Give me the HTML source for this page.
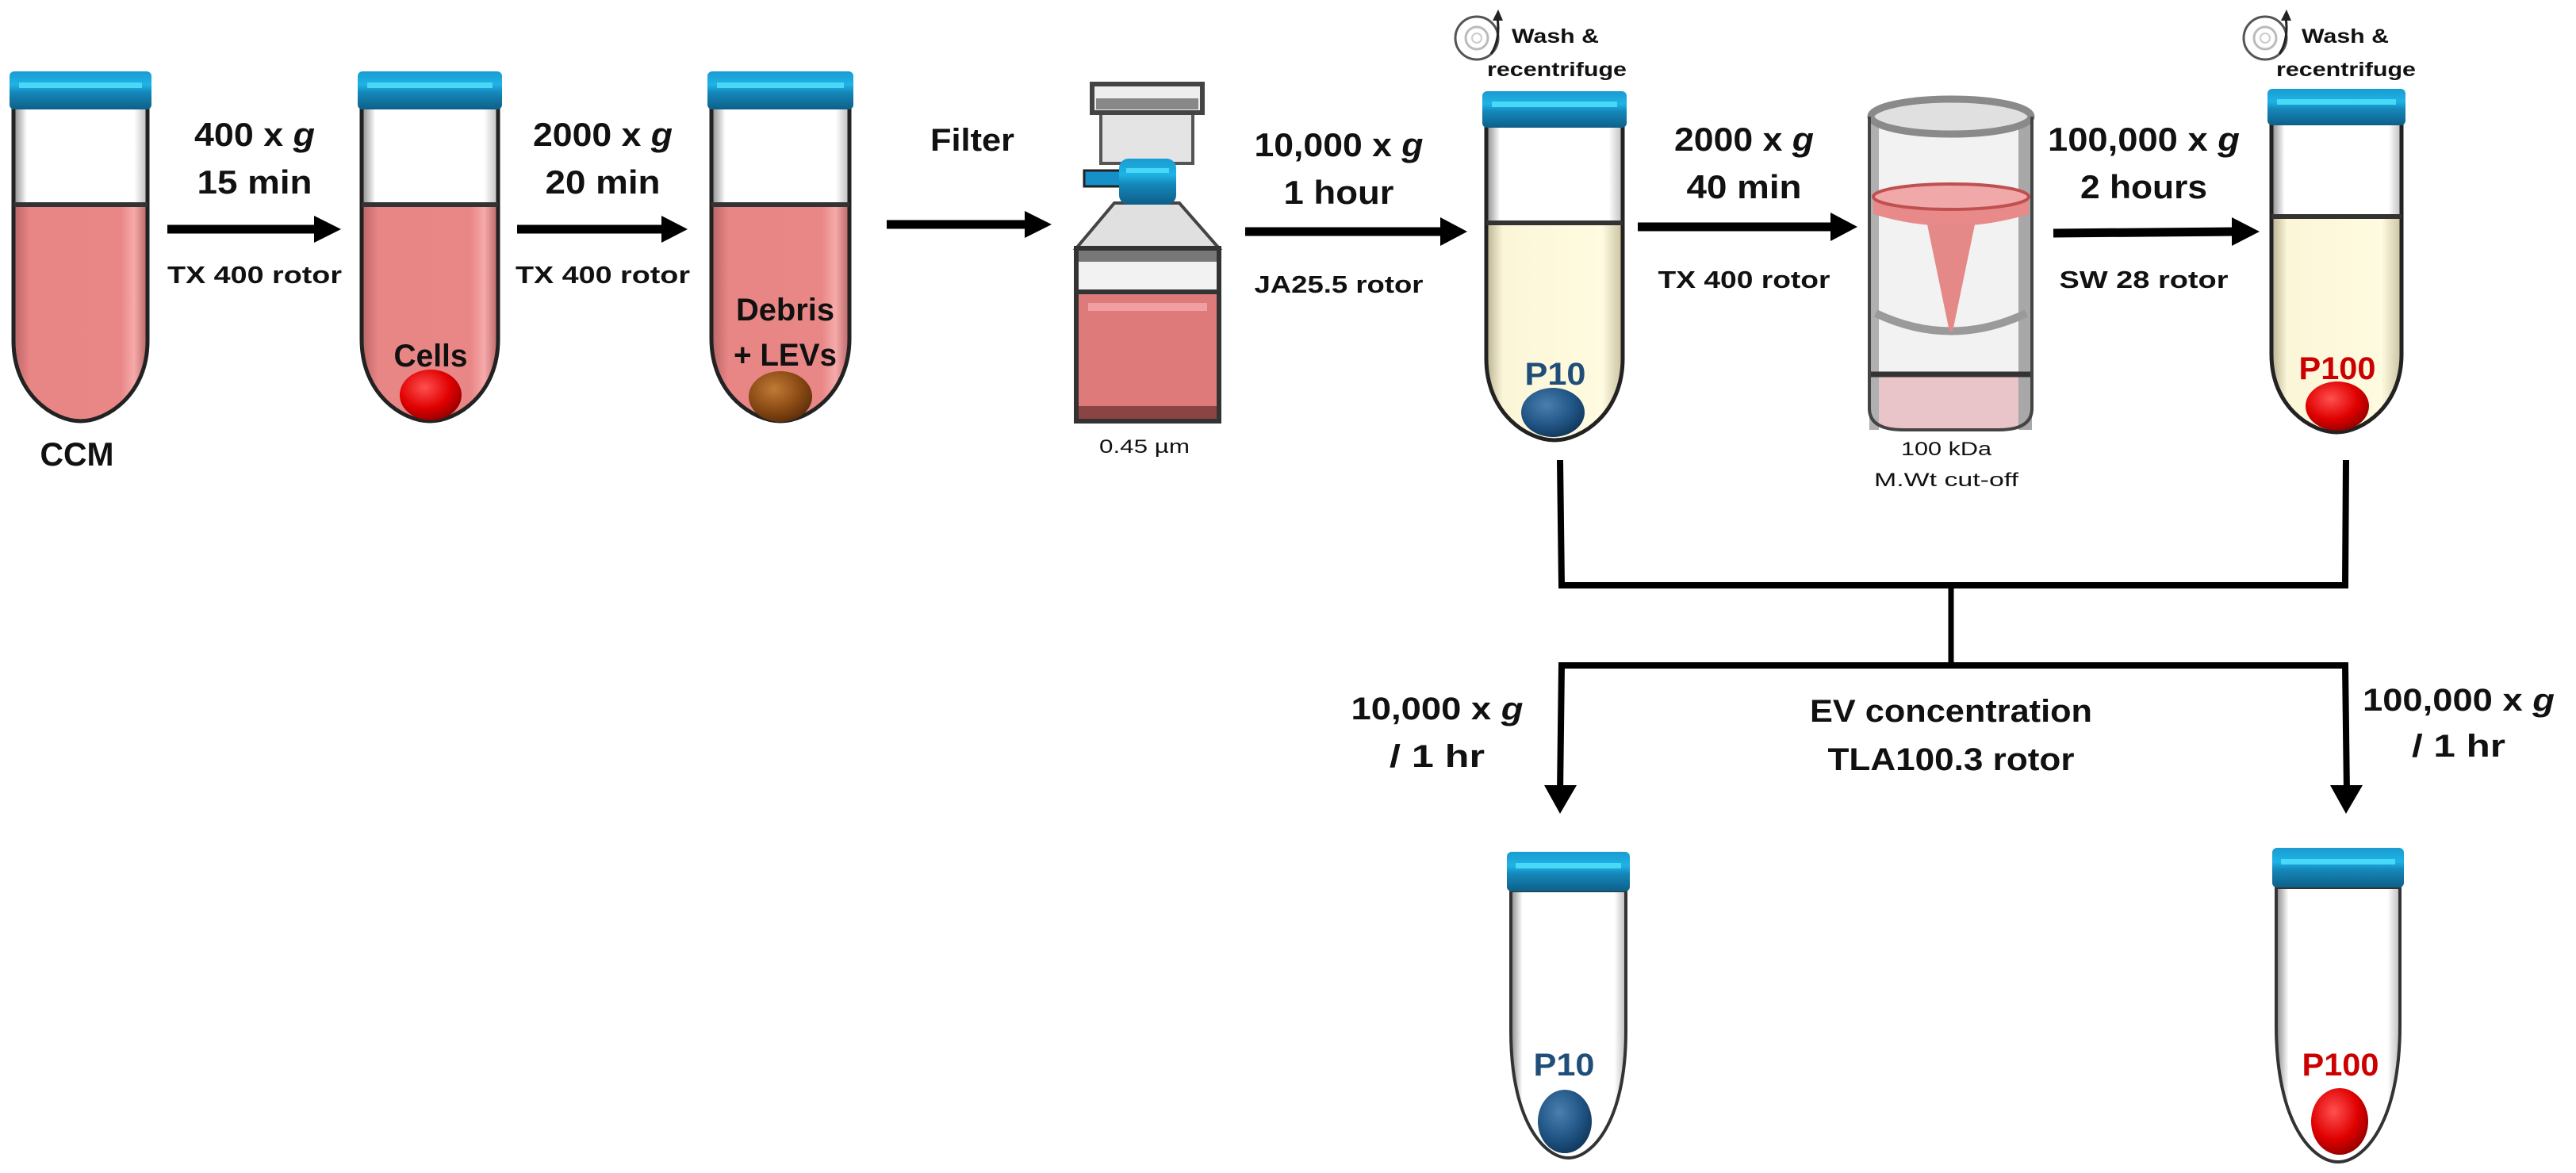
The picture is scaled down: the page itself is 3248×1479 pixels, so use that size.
<!DOCTYPE html>
<html><head><meta charset="utf-8"><style>
html,body{margin:0;padding:0;background:#fff;}
svg{display:block;}
text{font-family:"Liberation Sans",sans-serif;font-weight:bold;fill:#111;}
</style></head><body>
<svg width="3248" height="1479" viewBox="0 0 3248 1479" xmlns="http://www.w3.org/2000/svg">
<defs>
<linearGradient id="cap" x1="0" y1="0" x2="0" y2="1">
<stop offset="0" stop-color="#1a9bd0"/><stop offset="0.35" stop-color="#1fb3e6"/><stop offset="0.55" stop-color="#1588bb"/><stop offset="1" stop-color="#0e5f88"/></linearGradient>
<linearGradient id="pink" x1="0" y1="0" x2="1" y2="0">
<stop offset="0" stop-color="#b86464"/><stop offset="0.12" stop-color="#e88585"/><stop offset="0.8" stop-color="#e98787"/><stop offset="0.9" stop-color="#f6aaaa"/><stop offset="1" stop-color="#b86464"/></linearGradient>
<linearGradient id="yel" x1="0" y1="0" x2="1" y2="0">
<stop offset="0" stop-color="#b8b090"/><stop offset="0.12" stop-color="#fbf6d8"/><stop offset="0.85" stop-color="#fffbe0"/><stop offset="1" stop-color="#c8c0a0"/></linearGradient>
<linearGradient id="glass" x1="0" y1="0" x2="1" y2="0">
<stop offset="0" stop-color="#888"/><stop offset="0.1" stop-color="#fff"/><stop offset="0.9" stop-color="#fff"/><stop offset="1" stop-color="#bbb"/></linearGradient>
<radialGradient id="red" cx="0.4" cy="0.35" r="0.7"><stop offset="0" stop-color="#ff5050"/><stop offset="0.6" stop-color="#e00000"/><stop offset="1" stop-color="#900000"/></radialGradient>
<radialGradient id="blue" cx="0.4" cy="0.35" r="0.7"><stop offset="0" stop-color="#4a7fb0"/><stop offset="0.6" stop-color="#215586"/><stop offset="1" stop-color="#0f3558"/></radialGradient>
<radialGradient id="brown" cx="0.4" cy="0.35" r="0.7"><stop offset="0" stop-color="#c07a35"/><stop offset="0.6" stop-color="#8a4a14"/><stop offset="1" stop-color="#5a2d08"/></radialGradient>
</defs>

<!-- TUBE 1 -->
<path d="M17 137 L17 430 C17 497 67.7 531 101.5 531 C135.3 531 186 497 186 430 L186 137 Z" fill="url(#glass)"/>
<path d="M17 258 L17 430 C17 497 67.7 531 101.5 531 C135.3 531 186 497 186 430 L186 258 Z" fill="url(#pink)"/>
<path d="M17 137 L17 430 C17 497 67.7 531 101.5 531 C135.3 531 186 497 186 430 L186 137" fill="none" stroke="#222" stroke-width="5"/>
<line x1="17" y1="258" x2="186" y2="258" stroke="#333" stroke-width="6"/>
<rect x="12" y="90" width="179" height="48" rx="6" fill="url(#cap)"/><rect x="24" y="104" width="155" height="7" fill="#48d8f8"/>

<!-- TUBE 2 -->
<path d="M456 137 L456 428 C456 497 507.6 531 542 531 C576.4 531 628 497 628 428 L628 137 Z" fill="url(#glass)"/>
<path d="M456 258 L456 428 C456 497 507.6 531 542 531 C576.4 531 628 497 628 428 L628 258 Z" fill="url(#pink)"/>
<path d="M456 137 L456 428 C456 497 507.6 531 542 531 C576.4 531 628 497 628 428 L628 137" fill="none" stroke="#222" stroke-width="5"/>
<line x1="456" y1="258" x2="628" y2="258" stroke="#333" stroke-width="6"/>
<rect x="451" y="90" width="182" height="48" rx="6" fill="url(#cap)"/><rect x="463" y="104" width="158" height="7" fill="#48d8f8"/>
<ellipse cx="543" cy="498" rx="39" ry="32" fill="url(#red)"/>
<text x="543" y="462" font-size="40" text-anchor="middle" textLength="93" lengthAdjust="spacingAndGlyphs">Cells</text>

<!-- TUBE 3 -->
<path d="M897 137 L897 427 C897 496 949.2 531 984 531 C1018.8 531 1071 496 1071 427 L1071 137 Z" fill="url(#glass)"/>
<path d="M897 258 L897 427 C897 496 949.2 531 984 531 C1018.8 531 1071 496 1071 427 L1071 258 Z" fill="url(#pink)"/>
<path d="M897 137 L897 427 C897 496 949.2 531 984 531 C1018.8 531 1071 496 1071 427 L1071 137" fill="none" stroke="#222" stroke-width="5"/>
<line x1="897" y1="258" x2="1071" y2="258" stroke="#333" stroke-width="6"/>
<rect x="892" y="90" width="184" height="48" rx="6" fill="url(#cap)"/><rect x="904" y="104" width="160" height="7" fill="#48d8f8"/>
<ellipse cx="984" cy="500" rx="40" ry="32" fill="url(#brown)"/>
<text x="990" y="404" font-size="40" text-anchor="middle" textLength="124" lengthAdjust="spacingAndGlyphs">Debris</text>
<text x="990" y="461" font-size="40" text-anchor="middle" textLength="130" lengthAdjust="spacingAndGlyphs">+ LEVs</text>

<!-- texts row 1 -->
<text x="97" y="587" font-size="42" text-anchor="middle" textLength="93" lengthAdjust="spacingAndGlyphs">CCM</text>
<text x="321" y="184" font-size="42" text-anchor="middle" textLength="152" lengthAdjust="spacingAndGlyphs">400 x <tspan font-style="italic">g</tspan></text>
<text x="321" y="244" font-size="42" text-anchor="middle" textLength="145" lengthAdjust="spacingAndGlyphs">15 min</text>
<text x="321" y="357" font-size="31" text-anchor="middle" textLength="220" lengthAdjust="spacingAndGlyphs">TX 400 rotor</text>
<line x1="211" y1="289" x2="400" y2="289" stroke="#000" stroke-width="11"/><polygon points="396,272 430,289 396,306" fill="#000"/>

<text x="760" y="184" font-size="42" text-anchor="middle" textLength="176" lengthAdjust="spacingAndGlyphs">2000 x <tspan font-style="italic">g</tspan></text>
<text x="760" y="244" font-size="42" text-anchor="middle" textLength="145" lengthAdjust="spacingAndGlyphs">20 min</text>
<text x="760" y="357" font-size="31" text-anchor="middle" textLength="220" lengthAdjust="spacingAndGlyphs">TX 400 rotor</text>
<line x1="652" y1="289" x2="838" y2="289" stroke="#000" stroke-width="11"/><polygon points="834,272 867,289 834,306" fill="#000"/>

<text x="1226" y="190" font-size="40" text-anchor="middle" textLength="106" lengthAdjust="spacingAndGlyphs">Filter</text>
<line x1="1118" y1="283" x2="1296" y2="283" stroke="#000" stroke-width="11"/><polygon points="1292,266 1326,283 1292,300" fill="#000"/>

<!-- FILTER BOTTLE -->
<rect x="1388" y="140" width="116" height="66" fill="#e4e4e4" stroke="#555" stroke-width="4"/>
<rect x="1377" y="106" width="139" height="36" fill="#eee" stroke="#444" stroke-width="6"/>
<rect x="1382" y="124" width="129" height="14" fill="#888"/>
<polygon points="1405,256 1487,256 1537,313 1357,313" fill="#e0e0e0" stroke="#444" stroke-width="4"/>
<rect x="1357" y="313" width="180" height="218" fill="#f2f2f2" stroke="#333" stroke-width="6"/>
<rect x="1360" y="316" width="174" height="14" fill="#777"/>
<rect x="1357" y="368" width="180" height="163" fill="#df7a7a" stroke="#333" stroke-width="6"/>
<rect x="1372" y="382" width="150" height="10" fill="#f0a0a0"/>
<rect x="1360" y="512" width="174" height="16" fill="#8a4444"/>
<rect x="1367" y="215" width="46" height="20" fill="#1590c8" stroke="#222" stroke-width="3"/>
<rect x="1411" y="200" width="72" height="58" rx="12" fill="url(#cap)"/>
<rect x="1420" y="212" width="54" height="6" fill="#48d8f8"/>
<text x="1443" y="571" font-size="24" font-weight="normal" text-anchor="middle" textLength="114" lengthAdjust="spacingAndGlyphs" style="font-weight:normal">0.45 µm</text>

<!-- arrow 4 -->
<text x="1688" y="197" font-size="42" text-anchor="middle" textLength="213" lengthAdjust="spacingAndGlyphs">10,000 x <tspan font-style="italic">g</tspan></text>
<text x="1688" y="257" font-size="42" text-anchor="middle" textLength="139" lengthAdjust="spacingAndGlyphs">1 hour</text>
<text x="1688" y="369" font-size="31" text-anchor="middle" textLength="213" lengthAdjust="spacingAndGlyphs">JA25.5 rotor</text>
<line x1="1570" y1="292" x2="1820" y2="292" stroke="#000" stroke-width="11"/><polygon points="1816,274 1850,292 1816,310" fill="#000"/>

<!-- TUBE 4 -->
<path d="M1874 159 L1874 452 C1874 521 1925.6 555 1960 555 C1994.4 555 2046 521 2046 452 L2046 159 Z" fill="url(#glass)"/>
<path d="M1874 281 L1874 452 C1874 521 1925.6 555 1960 555 C1994.4 555 2046 521 2046 452 L2046 281 Z" fill="url(#yel)"/>
<path d="M1874 159 L1874 452 C1874 521 1925.6 555 1960 555 C1994.4 555 2046 521 2046 452 L2046 159" fill="none" stroke="#222" stroke-width="5"/>
<line x1="1874" y1="281" x2="2046" y2="281" stroke="#333" stroke-width="6"/>
<rect x="1869" y="115" width="182" height="46" rx="6" fill="url(#cap)"/><rect x="1881" y="128" width="158" height="7" fill="#48d8f8"/>
<ellipse cx="1958" cy="520" rx="40" ry="31" fill="url(#blue)"/>
<text x="1961" y="485" font-size="40" text-anchor="middle" fill="#1f4e79" style="fill:#1f4e79" textLength="77" lengthAdjust="spacingAndGlyphs">P10</text>
<!-- wash 1 -->
<circle cx="1862" cy="48" r="27" fill="none" stroke="#555" stroke-width="3"/>
<circle cx="1862" cy="48" r="14" fill="none" stroke="#bbb" stroke-width="3"/>
<circle cx="1862" cy="48" r="6" fill="none" stroke="#ccc" stroke-width="2"/>
<path d="M1880 68 Q1892 50 1888 22" fill="none" stroke="#222" stroke-width="3"/><polygon points="1882,26 1889,12 1895,26" fill="#222"/>
<text x="1906" y="54" font-size="25" textLength="110" lengthAdjust="spacingAndGlyphs">Wash &amp;</text>
<text x="1875" y="96" font-size="25" textLength="176" lengthAdjust="spacingAndGlyphs">recentrifuge</text>

<!-- arrow 5 -->
<text x="2199" y="190" font-size="42" text-anchor="middle" textLength="176" lengthAdjust="spacingAndGlyphs">2000 x <tspan font-style="italic">g</tspan></text>
<text x="2199" y="250" font-size="42" text-anchor="middle" textLength="145" lengthAdjust="spacingAndGlyphs">40 min</text>
<text x="2199" y="363" font-size="31" text-anchor="middle" textLength="217" lengthAdjust="spacingAndGlyphs">TX 400 rotor</text>
<line x1="2065" y1="286" x2="2312" y2="286" stroke="#000" stroke-width="11"/><polygon points="2308,268 2342,286 2308,304" fill="#000"/>

<!-- CONCENTRATOR -->
<path d="M2357 147 L2357 515 Q2357 542 2400 542 L2520 542 Q2562 542 2562 515 L2562 147 Z" fill="#f2f2f2"/>
<path d="M2357 472 L2357 515 Q2357 542 2400 542 L2520 542 Q2562 542 2562 515 L2562 472 Z" fill="#e9c4c8"/>
<rect x="2357" y="147" width="12" height="395" fill="#b0b0b0"/>
<rect x="2545" y="147" width="17" height="395" fill="#a8a8a8"/>
<path d="M2365 395 Q2460 440 2555 395" fill="none" stroke="#9a9a9a" stroke-width="10"/>
<path d="M2362 248 L2362 270 Q2460 300 2558 270 L2558 248 Z" fill="#e88a8a"/>
<ellipse cx="2460" cy="248" rx="98" ry="16" fill="#f0a8a8" stroke="#c05050" stroke-width="4"/>
<polygon points="2430,283 2490,283 2462,418 2458,418" fill="#e58888"/>
<line x1="2357" y1="472" x2="2562" y2="472" stroke="#333" stroke-width="7"/>
<ellipse cx="2460" cy="147" rx="101" ry="22" fill="#e0e0e0" stroke="#8a8a8a" stroke-width="9"/>
<path d="M2357 147 L2357 515 Q2357 542 2400 542 L2520 542 Q2562 542 2562 515 L2562 147" fill="none" stroke="#444" stroke-width="4"/>
<text x="2454" y="574" font-size="24" text-anchor="middle" textLength="114" lengthAdjust="spacingAndGlyphs" style="font-weight:normal">100 kDa</text>
<text x="2454" y="613" font-size="24" text-anchor="middle" textLength="182" lengthAdjust="spacingAndGlyphs" style="font-weight:normal">M.Wt cut-off</text>

<!-- arrow 6 -->
<text x="2703" y="190" font-size="42" text-anchor="middle" textLength="242" lengthAdjust="spacingAndGlyphs">100,000 x <tspan font-style="italic">g</tspan></text>
<text x="2703" y="250" font-size="42" text-anchor="middle" textLength="160" lengthAdjust="spacingAndGlyphs">2 hours</text>
<text x="2703" y="363" font-size="31" text-anchor="middle" textLength="213" lengthAdjust="spacingAndGlyphs">SW 28 rotor</text>
<line x1="2589" y1="294" x2="2818" y2="292" stroke="#000" stroke-width="11"/><polygon points="2814,274 2849,292 2814,310" fill="#000"/>

<!-- TUBE 5 -->
<path d="M2864 156 L2864 447 C2864 512 2913.2 545 2946 545 C2978.8 545 3028 512 3028 447 L3028 156 Z" fill="url(#glass)"/>
<path d="M2864 273 L2864 447 C2864 512 2913.2 545 2946 545 C2978.8 545 3028 512 3028 447 L3028 273 Z" fill="url(#yel)"/>
<path d="M2864 156 L2864 447 C2864 512 2913.2 545 2946 545 C2978.8 545 3028 512 3028 447 L3028 156" fill="none" stroke="#222" stroke-width="5"/>
<line x1="2864" y1="273" x2="3028" y2="273" stroke="#333" stroke-width="6"/>
<rect x="2859" y="112" width="174" height="46" rx="6" fill="url(#cap)"/><rect x="2871" y="125" width="150" height="7" fill="#48d8f8"/>
<ellipse cx="2947" cy="512" rx="40" ry="31" fill="url(#red)"/>
<text x="2947" y="478" font-size="40" text-anchor="middle" style="fill:#cc0000" textLength="97" lengthAdjust="spacingAndGlyphs">P100</text>
<!-- wash 2 -->
<circle cx="2856" cy="48" r="27" fill="none" stroke="#555" stroke-width="3"/>
<circle cx="2856" cy="48" r="14" fill="none" stroke="#bbb" stroke-width="3"/>
<circle cx="2856" cy="48" r="6" fill="none" stroke="#ccc" stroke-width="2"/>
<path d="M2874 68 Q2886 50 2882 22" fill="none" stroke="#222" stroke-width="3"/><polygon points="2876,26 2883,12 2889,26" fill="#222"/>
<text x="2902" y="54" font-size="25" textLength="110" lengthAdjust="spacingAndGlyphs">Wash &amp;</text>
<text x="2870" y="96" font-size="25" textLength="176" lengthAdjust="spacingAndGlyphs">recentrifuge</text>

<!-- BRACKET -->
<path d="M1967 580 L1969 738 L2957 738 L2958 580" fill="none" stroke="#000" stroke-width="8"/>
<line x1="2460" y1="738" x2="2460" y2="839" stroke="#000" stroke-width="7"/>
<path d="M1967 1000 L1969 839 L2957 839 L2959 1000" fill="none" stroke="#000" stroke-width="8"/>
<polygon points="1947,990 1988,990 1967,1026" fill="#000"/>
<polygon points="2938,990 2979,990 2958,1026" fill="#000"/>
<text x="1812" y="907" font-size="40" text-anchor="middle" textLength="217" lengthAdjust="spacingAndGlyphs">10,000 x <tspan font-style="italic">g</tspan></text>
<text x="1812" y="967" font-size="40" text-anchor="middle" textLength="120" lengthAdjust="spacingAndGlyphs">/ 1 hr</text>
<text x="2460" y="910" font-size="40" text-anchor="middle" textLength="356" lengthAdjust="spacingAndGlyphs">EV concentration</text>
<text x="2460" y="971" font-size="40" text-anchor="middle" textLength="311" lengthAdjust="spacingAndGlyphs">TLA100.3 rotor</text>
<text x="3100" y="896" font-size="40" text-anchor="middle" textLength="242" lengthAdjust="spacingAndGlyphs">100,000 x <tspan font-style="italic">g</tspan></text>
<text x="3100" y="954" font-size="40" text-anchor="middle" textLength="118" lengthAdjust="spacingAndGlyphs">/ 1 hr</text>

<!-- TUBE 6 -->
<path d="M1905 1123 L1905 1300 C1905 1416 1948.5 1460 1977.5 1460 C2006.5 1460 2050 1416 2050 1300 L2050 1123 Z" fill="url(#glass)" stroke="#333" stroke-width="4"/>
<rect x="1900" y="1074" width="155" height="50" rx="6" fill="url(#cap)"/><rect x="1911" y="1088" width="133" height="7" fill="#48d8f8"/>
<ellipse cx="1973" cy="1414" rx="34" ry="40" fill="url(#blue)"/>
<text x="1972" y="1356" font-size="40" text-anchor="middle" style="fill:#1f4e79" textLength="77" lengthAdjust="spacingAndGlyphs">P10</text>

<!-- TUBE 7 -->
<path d="M2870 1119 L2870 1293 C2870 1418 2916.8 1465 2948 1465 C2979.2 1465 3026 1418 3026 1293 L3026 1119 Z" fill="url(#glass)" stroke="#333" stroke-width="4"/>
<rect x="2865" y="1069" width="166" height="50" rx="6" fill="url(#cap)"/><rect x="2876" y="1083" width="144" height="7" fill="#48d8f8"/>
<ellipse cx="2950" cy="1414" rx="36" ry="42" fill="url(#red)"/>
<text x="2951" y="1356" font-size="40" text-anchor="middle" style="fill:#cc0000" textLength="97" lengthAdjust="spacingAndGlyphs">P100</text>
</svg>
</body></html>
